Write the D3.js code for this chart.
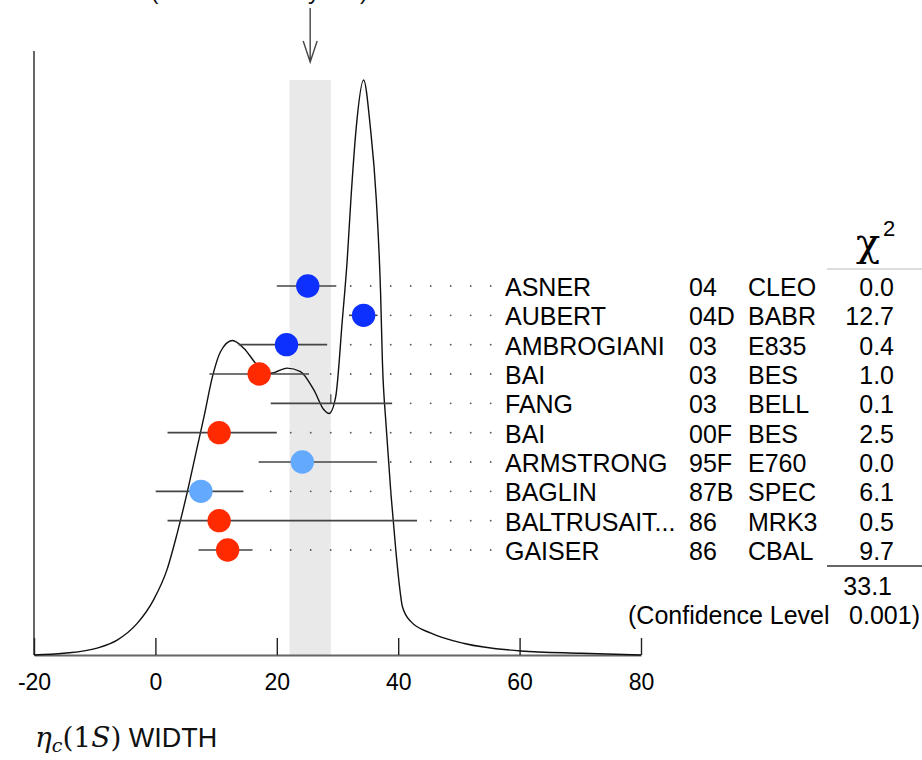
<!DOCTYPE html>
<html>
<head>
<meta charset="utf-8">
<script src="https://cdn.jsdelivr.net/npm/d3@7"></script>
<style>
    body { margin: 0; background: #fff; }
    svg { display: block; font-family: "Liberation Sans", Arial, sans-serif; }
</style>
</head>
<body>
<div id="chart"></div>
<script>
// measurements, top to bottom
const authors = ["ASNER", "AUBERT", "AMBROGIANI", "BAI", "FANG", "BAI", "ARMSTRONG", "BAGLIN", "BALTRUSAIT...", "GAISER"];
const years = ["04", "04D", "03", "03", "03", "00F", "95F", "87B", "86", "86"];
const experiments = ["CLEO", "BABR", "E835", "BES", "BELL", "BES", "E760", "SPEC", "MRK3", "CBAL"];
const chi2 = ["0.0", "12.7", "0.4", "1.0", "0.1", "2.5", "0.0", "6.1", "0.5", "9.7"];
const values = [25.1, 34.3, 21.6, 17.1, 28.9, 10.5, 24.2, 7.5, 10.5, 11.9];
const lows = [20.0, 31.9, 13.7, 8.9, 19.0, 2.0, 17.0, 0.05, 2.0, 7.1];
const highs = [29.8, 36.6, 28.3, 25.3, 39.0, 20.0, 36.5, 14.5, 43.1, 16.0];
const kinds = ["dark", "dark", "dark", "red", "tick", "red", "light", "light", "red", "red"];
const extraTicks = [null, null, 20.5, null, null, null, null, null, null, null];

const average = 25.5;
const averageErr = 3.4;
const chi2Total = "33.1";
const confidence = "0.001";
const xTicks = [-20, 0, 20, 40, 60, 80];

// ideogram curve (width, relative height)
const curveX = [-20, -15.1, -9.6, -6.3, -3.0, -0.3, 1.9, 3.6, 5.2, 6.9, 8.0, 9.4, 10.7, 12.7, 14.6, 16.8, 19.0, 21.7, 23.9, 26.1, 27.8, 28.6, 29.7, 30.8, 31.6, 32.2, 33.1, 34.3, 35.4, 36.4, 37.1, 37.4, 38.0, 38.8, 39.6, 40.1, 40.7, 42.1, 45.4, 50.9, 60.2, 70.1, 80];
const curveY = [0.0, 0.003, 0.012, 0.026, 0.055, 0.096, 0.148, 0.212, 0.281, 0.362, 0.414, 0.484, 0.527, 0.547, 0.533, 0.504, 0.490, 0.499, 0.493, 0.461, 0.426, 0.420, 0.449, 0.583, 0.687, 0.791, 0.919, 1.0, 0.919, 0.791, 0.629, 0.510, 0.40, 0.281, 0.183, 0.130, 0.084, 0.058, 0.038, 0.020, 0.007, 0.003, 0.0];

const colors = { dark: "#0d30ff", red: "#ff2a00", light: "#63aaff" };

const width = 922, height = 760;

const svg = d3.select("#chart").append("svg")
    .attr("width", width)
    .attr("height", height);

const xScale = d3.scaleLinear().domain([-20, 80]).range([34, 641]);
const yScale = d3.scaleLinear().domain([0, 1]).range([655, 80]);
const rowScale = d3.scalePoint().domain(d3.range(authors.length)).range([286, 550]);

// error-scaled band of the average
svg.append("rect")
    .attr("x", xScale(average - averageErr))
    .attr("y", yScale(1))
    .attr("width", xScale(average + averageErr) - xScale(average - averageErr))
    .attr("height", yScale(0) - yScale(1))
    .attr("fill", "#e9e9e9");

// title, mostly cut off at the top edge as in the source
svg.append("text")
    .attr("x", 368)
    .attr("y", -1)
    .attr("text-anchor", "end")
    .attr("font-size", 24)
    .attr("fill", "#111")
    .text(`${average}±${averageErr} (Error scaled by 1.9)`);

// arrow pointing at the average
const ax = xScale(average);
svg.append("path")
    .attr("d", `M${ax},8V62M${ax - 7},41L${ax},62L${ax + 7},41`)
    .attr("fill", "none")
    .attr("stroke", "#444")
    .attr("stroke-width", 1.4);

// left frame line
svg.append("line")
    .attr("x1", xScale(-20)).attr("x2", xScale(-20))
    .attr("y1", 51).attr("y2", yScale(0))
    .attr("stroke", "#666")
    .attr("stroke-width", 2);

// x axis, ticks pointing up
const xAxis = svg.append("g")
    .attr("transform", `translate(0,${yScale(0)})`)
    .call(d3.axisBottom(xScale).tickValues(xTicks).tickSizeInner(-17).tickSizeOuter(0).tickPadding(19).tickFormat(d => String(d)));
xAxis.select(".domain").attr("stroke", "#666").attr("stroke-width", 2);
xAxis.selectAll(".tick line").attr("stroke", "#222").attr("stroke-width", 1.4);
xAxis.selectAll(".tick text")
    .attr("font-family", "'Liberation Sans', Arial, sans-serif")
    .attr("font-size", 23)
    .attr("fill", "#000");

// ideogram curve
const line = d3.line()
    .x(d => xScale(d[0]))
    .y(d => yScale(d[1]))
    .curve(d3.curveMonotoneX);
svg.append("path")
    .datum(d3.zip(curveX, curveY))
    .attr("d", line)
    .attr("fill", "none")
    .attr("stroke", "#111")
    .attr("stroke-width", 1.4);

// leader dots between each bar and its label
const leaderGrid = d3.range(xScale(19), 500, 20);
const rows = svg.append("g");
authors.forEach((name, i) => {
    const y = rowScale(i);
    const end = xScale(highs[i]);
    rows.append("g")
        .selectAll("circle")
        .data(leaderGrid.filter(x => x > end + 13))
        .enter().append("circle")
        .attr("cx", d => d)
        .attr("cy", y)
        .attr("r", 0.9)
        .attr("fill", "#555");
});

// error bars
rows.selectAll("line.err")
    .data(d3.range(authors.length))
    .enter().append("line")
    .attr("class", "err")
    .attr("x1", i => xScale(lows[i]))
    .attr("x2", i => xScale(highs[i]))
    .attr("y1", i => rowScale(i))
    .attr("y2", i => rowScale(i))
    .attr("stroke", "#444")
    .attr("stroke-width", 1.6);

// small ticks at central values without a dot
const tickRows = d3.range(authors.length).filter(i => kinds[i] === "tick" || extraTicks[i] !== null);
rows.selectAll("line.cv")
    .data(tickRows)
    .enter().append("line")
    .attr("class", "cv")
    .attr("x1", i => xScale(kinds[i] === "tick" ? values[i] : extraTicks[i]))
    .attr("x2", i => xScale(kinds[i] === "tick" ? values[i] : extraTicks[i]))
    .attr("y1", i => rowScale(i) - 9)
    .attr("y2", i => rowScale(i))
    .attr("stroke", "#444")
    .attr("stroke-width", 1.2);

// measurement dots
rows.selectAll("circle.pt")
    .data(d3.range(authors.length).filter(i => kinds[i] !== "tick"))
    .enter().append("circle")
    .attr("class", "pt")
    .attr("cx", i => xScale(values[i]))
    .attr("cy", i => rowScale(i))
    .attr("r", 11.7)
    .attr("fill", i => colors[kinds[i]]);

// table of references
const table = svg.append("g")
    .attr("font-size", 25)
    .attr("fill", "#000");

const columns = [
    { data: authors, x: 505, anchor: "start" },
    { data: years, x: 689, anchor: "start" },
    { data: experiments, x: 748, anchor: "start" },
    { data: chi2, x: 894, anchor: "end" }
];
columns.forEach(col => {
    table.append("g")
        .selectAll("text")
        .data(col.data)
        .enter().append("text")
        .attr("x", col.x)
        .attr("y", (d, i) => rowScale(i) + 10)
        .attr("text-anchor", col.anchor)
        .text(d => d);
});

// chi-square header and total
const head = svg.append("text")
    .attr("x", 856)
    .attr("y", 256)
    .attr("font-family", "'DejaVu Serif', serif")
    .attr("font-size", 40);
head.append("tspan").text("χ");
head.append("tspan")
    .attr("x", 883)
    .attr("y", 236)
    .attr("font-family", "'Liberation Sans', Arial, sans-serif")
    .attr("font-size", 22)
    .text("2");

svg.append("line")
    .attr("x1", 827).attr("x2", 922)
    .attr("y1", 269).attr("y2", 269)
    .attr("stroke", "#bbb")
    .attr("stroke-width", 1);

svg.append("line")
    .attr("x1", 827).attr("x2", 922)
    .attr("y1", 566).attr("y2", 566)
    .attr("stroke", "#666")
    .attr("stroke-width", 2);

table.append("text")
    .attr("x", 892)
    .attr("y", 595)
    .attr("text-anchor", "end")
    .text(chi2Total);

table.append("text")
    .attr("x", 628)
    .attr("y", 624)
    .text("(Confidence Level");

table.append("text")
    .attr("x", 920)
    .attr("y", 624)
    .attr("text-anchor", "end")
    .text(`${confidence})`);

// x axis title
const title = svg.append("text")
    .attr("x", 35)
    .attr("y", 747)
    .attr("font-family", "'DejaVu Serif', serif")
    .attr("font-size", 28)
    .attr("fill", "#111");
title.append("tspan").attr("font-style", "italic").text("η");
title.append("tspan").attr("font-style", "italic").attr("font-size", 19).attr("dy", 5).text("c");
title.append("tspan").attr("dy", -5).text("(1");
title.append("tspan").attr("font-style", "italic").text("S");
title.append("tspan").text(")");
title.append("tspan")
    .attr("font-family", "'Liberation Sans', Arial, sans-serif")
    .attr("font-size", 27)
    .text(" WIDTH");
</script>
</body>
</html>
